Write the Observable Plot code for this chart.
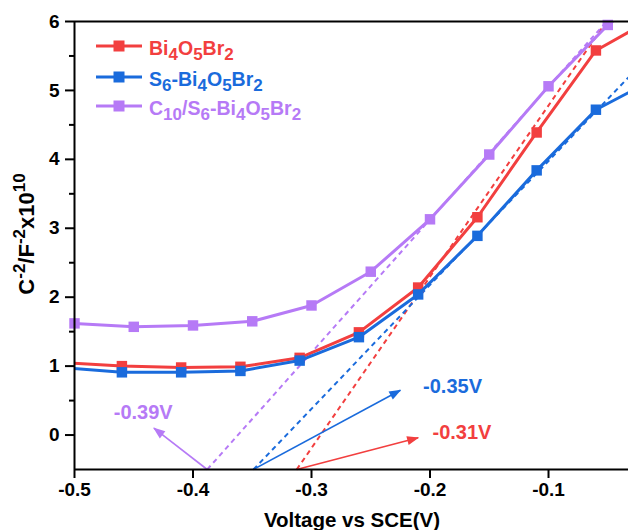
<!DOCTYPE html>
<html><head><meta charset="utf-8">
<script src="https://cdn.jsdelivr.net/npm/d3@7"></script>
<script src="https://cdn.jsdelivr.net/npm/@observablehq/plot@0.6"></script>
<style>
body{margin:0;background:#fff;}
#chart{position:relative;width:628px;height:530px;overflow:hidden;}
</style>
</head><body><div id="chart"></div>
<script>
// ---- data ----
const seriesNames = ["Bi4O5Br2", "S6-Bi4O5Br2", "C10/S6-Bi4O5Br2"];
const seriesColors = ["#f23f3f", "#1a6bdc", "#b67af6"];

const voltageBi = [-0.51, -0.46, -0.41, -0.36, -0.31, -0.26, -0.21, -0.16, -0.11, -0.06, -0.01];
const capBi     = [1.05, 1.00, 0.98, 0.99, 1.12, 1.49, 2.14, 3.16, 4.39, 5.58, 6.06];

const voltageS6 = [-0.51, -0.46, -0.41, -0.36, -0.31, -0.26, -0.21, -0.16, -0.11, -0.06, -0.01];
const capS6     = [0.98, 0.91, 0.91, 0.93, 1.08, 1.42, 2.04, 2.89, 3.84, 4.72, 5.17];

const voltageC10 = [-0.50, -0.45, -0.40, -0.35, -0.30, -0.25, -0.20, -0.15, -0.10, -0.05, 0.00];
const capC10     = [1.62, 1.57, 1.59, 1.65, 1.88, 2.37, 3.13, 4.07, 5.06, 5.95, 6.60];

// tangent (Mott-Schottky fit) lines: start / end
const tangentX1 = [-0.3125, -0.349, -0.388];
const tangentY1 = [-0.5, -0.5, -0.5];
const tangentX2 = [-0.051, -0.0325, -0.051];
const tangentY2 = [6.0, 5.19, 6.0];

// annotation arrows: start / end
const arrowX1 = [-0.3125, -0.349, -0.388];
const arrowY1 = [-0.5, -0.5, -0.5];
const arrowX2 = [-0.21, -0.225, -0.433];
const arrowY2 = [-0.04, 0.65, 0.10];

// flat-band potential labels
const fbLabels = ["-0.31V", "-0.35V", "-0.39V"];
const fbLabelX = [-0.173, -0.181, -0.442];
const fbLabelY = [0.04, 0.70, 0.33];

const xDomain = [-0.5, -0.0325];
const yDomain = [-0.5, 6];
const xTicks = [-0.5, -0.4, -0.3, -0.2, -0.1];
const yTicks = [0, 1, 2, 3, 4, 5, 6];
const yMinorTicks = [0.5, 1.5, 2.5, 3.5, 4.5, 5.5];
const xLabel = "Voltage vs SCE(V)";

// ---- build tables ----
const seriesX = [voltageBi, voltageS6, voltageC10];
const seriesY = [capBi, capS6, capC10];
const seriesData = seriesNames.map((name, k) =>
  seriesX[k].map((v, i) => ({name, v, c: seriesY[k][i]})));
const tangents = seriesNames.map((name, k) => ({name, color: seriesColors[k],
  x1: tangentX1[k], y1: tangentY1[k], x2: tangentX2[k], y2: tangentY2[k]}));
const arrows = seriesNames.map((name, k) => ({name, color: seriesColors[k],
  x1: arrowX1[k], y1: arrowY1[k], x2: arrowX2[k], y2: arrowY2[k]}));
const labels = seriesNames.map((name, k) => ({text: fbLabels[k], color: seriesColors[k],
  x: fbLabelX[k], y: fbLabelY[k]}));
const inDomain = d => d.v >= xDomain[0] - 1e-9 && d.v <= xDomain[1];

const marks = [];
// dashed tangents
tangents.forEach(t => marks.push(Plot.link([t], {x1: "x1", y1: "y1", x2: "x2", y2: "y2",
  stroke: t.color, strokeWidth: 2, strokeDasharray: "5,4", clip: true})));
// arrows
arrows.forEach(a => marks.push(Plot.link([a], {x1: "x1", y1: "y1", x2: "x2", y2: "y2",
  stroke: a.color, strokeWidth: 1.6, markerEnd: "arrow"})));
// data lines + markers
seriesData.forEach((data, k) => {
  marks.push(Plot.line(data, {x: "v", y: "c", stroke: seriesColors[k], strokeWidth: 3, clip: true}));
  marks.push(Plot.dot(data.filter(inDomain), {x: "v", y: "c", symbol: "square", r: 5.9,
    fill: seriesColors[k], stroke: "none"}));
});
// labels
labels.forEach(l => marks.push(Plot.text([l], {x: "x", y: "y", text: "text", fill: l.color,
  fontSize: 20, fontWeight: "bold"})));
// axes + frame
marks.push(Plot.axisX({ticks: xTicks, tickSize: 9, tickPadding: 4, strokeWidth: 2,
  tickFormat: d => d.toFixed(1), label: null, fontSize: 19, fontWeight: "bold"}));
marks.push(Plot.axisY({ticks: yTicks, tickSize: 9, tickPadding: 6, strokeWidth: 2,
  tickFormat: d => String(d), label: null, fontSize: 19, fontWeight: "bold"}));
marks.push(Plot.axisY({ticks: yMinorTicks, tickSize: 5, strokeWidth: 2,
  tickFormat: () => "", label: null}));
marks.push(Plot.ruleY([yDomain[0], yDomain[1]], {stroke: "#000", strokeWidth: 2}));
marks.push(Plot.ruleX([xDomain[0]], {stroke: "#000", strokeWidth: 2}));

const chart = Plot.plot({
  width: 628, height: 530,
  marginLeft: 74, marginRight: 0, marginTop: 21, marginBottom: 61,
  x: {domain: xDomain},
  y: {domain: yDomain},
  style: {fontFamily: "'Liberation Sans', Arial, sans-serif", color: "#000", background: "#fff", overflow: "visible"},
  marks
});
document.getElementById("chart").appendChild(chart);

const svg = d3.select(chart);

// filled triangular arrowheads
svg.selectAll("marker").each(function() {
  const m = d3.select(this);
  const col = m.attr("stroke");
  m.attr("viewBox", "-12 -5 13 10")
   .attr("markerWidth", 13 / 1.6).attr("markerHeight", 10 / 1.6)
   .attr("fill", col).attr("stroke", "none");
  m.selectAll("path").attr("d", "M-11,-4.5L1,0L-11,4.5Z").attr("fill", col).attr("stroke", "none");
});

// x axis title
svg.append("text").attr("x", 352).attr("y", 527).attr("text-anchor", "middle")
  .attr("font-size", 20.5).attr("font-weight", "bold").attr("fill", "#000").text(xLabel);

// y axis title with superscripts
const yl = svg.append("text").attr("transform", "translate(34,234) rotate(-90)")
  .attr("text-anchor", "middle").attr("font-size", 22).attr("font-weight", "bold").attr("fill", "#000");
const ySegs = [["C", 0], ["-2", 1], ["/F", 0], ["-2", 1], ["x10", 0], ["10", 1]];
let prevSup = 0;
ySegs.forEach(([t, sup]) => {
  const ts = yl.append("tspan").text(t);
  const dy = (sup ? -9 : 0) - (prevSup ? -9 : 0);
  if (dy) ts.attr("dy", dy);
  if (sup) ts.attr("font-size", 17);
  prevSup = sup;
});

// legend
const legend = svg.append("g").attr("text-anchor", "start");
const rowY = [46, 77, 106];
seriesNames.forEach((name, k) => {
  const g = legend.append("g").attr("transform", `translate(0,${rowY[k]})`);
  g.append("line").attr("x1", 96).attr("x2", 142).attr("stroke", seriesColors[k]).attr("stroke-width", 3);
  g.append("rect").attr("x", 113.5).attr("y", -5.5).attr("width", 11).attr("height", 11).attr("fill", seriesColors[k]);
  const t = g.append("text").attr("x", 149).attr("y", 9).attr("text-anchor", "start")
    .attr("font-size", 19.5).attr("font-weight", "bold").attr("fill", seriesColors[k]);
  let prevSub = false;
  name.split(/(\d+)/).filter(s => s.length).forEach(s => {
    const sub = /^\d+$/.test(s);
    const ts = t.append("tspan").text(s);
    const dy = (sub ? 5 : 0) - (prevSub ? 5 : 0);
    if (dy) ts.attr("dy", dy);
    if (sub) ts.attr("font-size", 17);
    prevSub = sub;
  });
});
</script>
</body></html>
